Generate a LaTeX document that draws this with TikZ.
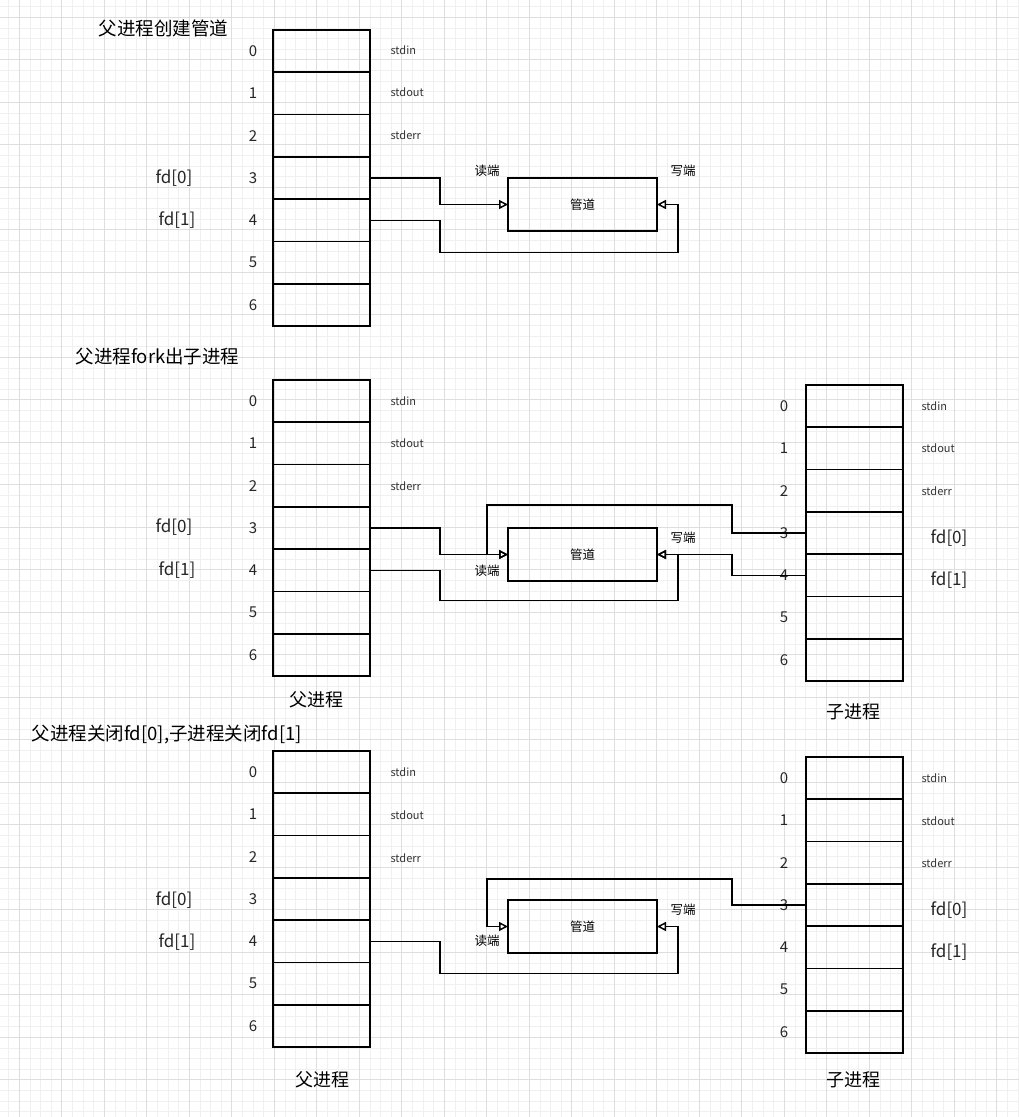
\documentclass[tikz,border=0pt]{standalone}
\usepackage{fontspec}
\setmainfont{Noto Sans CJK SC}
\usetikzlibrary{arrows.meta,calc}
\tikzset{
  cell/.style={draw=black, line width=1.7pt, minimum width=97pt, minimum height=42.3pt, inner sep=0pt, outer sep=0pt},
  pipebox/.style={draw=black, line width=1.5pt, minimum width=149pt, minimum height=53pt, inner sep=0pt, outer sep=0pt, font=\fontsize{12.5}{14}\selectfont},
  conn/.style={draw=black, line width=1.5pt},
  arr/.style={conn, -{Triangle[open, length=9pt, width=9pt]}},
  num/.style={font=\fontsize{15}{17}\selectfont, text=black!85},
  lab/.style={anchor=west, font=\fontsize{11}{13}\selectfont, text=black!80},
  fdlab/.style={font=\fontsize{17}{19}\selectfont, text=black!85},
  title/.style={anchor=west, font=\fontsize{18.5}{21}\selectfont},
  endlab/.style={font=\fontsize{12.5}{14}\selectfont},
  caption/.style={font=\fontsize{18}{21}\selectfont},
  minorg/.style={draw=black!6, line width=0.8pt},
  majorg/.style={draw=black!13, line width=0.9pt}
}
\begin{document}
\begin{tikzpicture}[x=1pt,y=-1pt]
\fill[white] (0,0) rectangle (1019,1117);
\useasboundingbox (0,0) rectangle (1019,1117);
% grid
\foreach \i in {0,...,95} \draw[minorg] ({8.675+10.625*\i},0) -- ++(0,1117);
\foreach \i in {0,...,104} \draw[minorg] (0,{6.675+10.625*\i}) -- ++(1019,0);
\foreach \i in {0,...,23} \draw[majorg] ({19.3+42.5*\i},0) -- ++(0,1117);
\foreach \i in {0,...,25} \draw[majorg] (0,{17.3+42.5*\i}) -- ++(1019,0);

% ===== Section 1 =====
\node[title] (t1) at (95,28) {父进程创建管道};
\foreach \i in {0,...,6} {
  \node[cell] (a\i) at (321.5,{51.15+42.3*\i}) {};
  \node[num] (an\i) at (253,{51.15+42.3*\i}) {\i};
}
\node[lab] (as0) at (387,50) {stdin};
\node[lab] (as1) at (387,92) {stdout};
\node[lab] (as2) at (387,135) {stderr};
\node[fdlab] (af0) at (174,178) {fd[0]};
\node[fdlab] (af1) at (177,220) {fd[1]};
\node[pipebox] (p1) at (582.5,204.5) {管道};
\node[endlab] (r1) at (487,171) {读端};
\node[endlab] (w1) at (683,171) {写端};
\draw[arr] (a3.east) -- ++(70,0) |- (p1.west);
\draw[arr] (a4.east) -- ++(70,0) -- ++(0,32) -| ([xshift=21pt]p1.east) -- (p1.east);

% ===== Section 2 =====
\node[title] (t2) at (72,357) {父进程fork出子进程};
\foreach \i in {0,...,6} {
  \node[cell] (b\i) at (321.5,{401.15+42.3*\i}) {};
  \node[num] (bn\i) at (253,{401.15+42.3*\i}) {\i};
  \node[cell] (c\i) at (854.5,{406.15+42.3*\i}) {};
  \node[num] (cn\i) at (784,{406.15+42.3*\i}) {\i};
}
\node[lab] (bs0) at (387,401) {stdin};
\node[lab] (bs1) at (387,443) {stdout};
\node[lab] (bs2) at (387,486) {stderr};
\node[fdlab] (bf0) at (174,527) {fd[0]};
\node[fdlab] (bf1) at (177,570) {fd[1]};
\node[lab] (cs0) at (918,406) {stdin};
\node[lab] (cs1) at (918,448) {stdout};
\node[lab] (cs2) at (918,491) {stderr};
\node[fdlab] (cf0) at (949,538) {fd[0]};
\node[fdlab] (cf1) at (949,580) {fd[1]};
\node[caption] (bc) at (316,700) {父进程};
\node[caption] (cc) at (853,712) {子进程};
\node[pipebox] (p2) at (582.5,554.5) {管道};
\node[endlab] (r2) at (487,571) {读端};
\node[endlab] (w2) at (683,538) {写端};
\draw[arr] (b3.east) -- ++(70,0) |- (p2.west);
\draw[arr] (b4.east) -- ++(70,0) -- ++(0,30) -| ([xshift=21pt]p2.east) -- (p2.east);
\draw[arr] (c3.west) -- ++(-74,0) -- ++(0,-28) -| ([xshift=-21pt]p2.west) -- (p2.west);
\draw[arr] (c4.west) -- ++(-74,0) |- (p2.east);

% ===== Section 3 =====
\node[title] (t3) at (28,735) {父进程关闭fd[0],子进程关闭fd[1]};
\foreach \i in {0,...,6} {
  \node[cell] (d\i) at (321.5,{772.15+42.3*\i}) {};
  \node[num] (dn\i) at (253,{772.15+42.3*\i}) {\i};
  \node[cell] (e\i) at (854.5,{778.15+42.3*\i}) {};
  \node[num] (en\i) at (784,{778.15+42.3*\i}) {\i};
}
\node[lab] (ds0) at (387,772) {stdin};
\node[lab] (ds1) at (387,815) {stdout};
\node[lab] (ds2) at (387,858) {stderr};
\node[fdlab] (df0) at (174,900) {fd[0]};
\node[fdlab] (df1) at (177,942) {fd[1]};
\node[lab] (es0) at (918,778) {stdin};
\node[lab] (es1) at (918,821) {stdout};
\node[lab] (es2) at (918,863) {stderr};
\node[fdlab] (ef0) at (949,910) {fd[0]};
\node[fdlab] (ef1) at (949,952) {fd[1]};
\node[caption] (dc) at (322,1080) {父进程};
\node[caption] (ec) at (853,1080) {子进程};
\node[pipebox] (p3) at (582.5,926.5) {管道};
\node[endlab] (r3) at (487,941) {读端};
\node[endlab] (w3) at (683,910) {写端};
\draw[arr] (d4.east) -- ++(70,0) -- ++(0,32) -| ([xshift=21pt]p3.east) -- (p3.east);
\draw[arr] (e3.west) -- ++(-74,0) -- ++(0,-26) -| ([xshift=-21pt]p3.west) -- (p3.west);
\end{tikzpicture}
\end{document}
